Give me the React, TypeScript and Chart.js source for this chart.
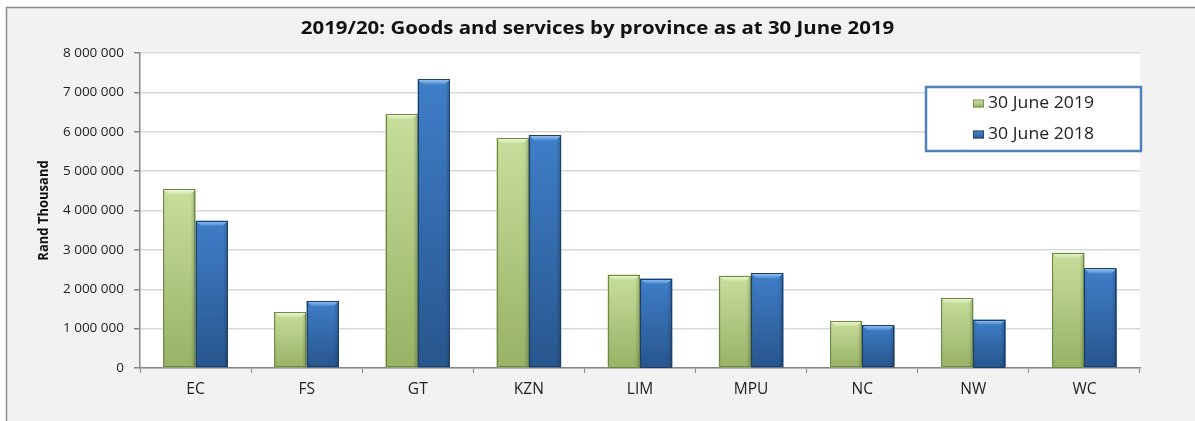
import React, { useEffect, useRef } from "react";
import { Chart, registerables } from "chart.js";

Chart.register(...registerables);

const TITLE = "2019/20: Goods and services by province as at 30 June 2019";
const Y_TITLE = "Rand Thousand";
const categories = ["EC", "FS", "GT", "KZN", "LIM", "MPU", "NC", "NW", "WC"];
const series2019 = [4535000, 1424000, 6450000, 5840000, 2374000, 2340000, 1195000, 1780000, 2930000];
const series2018 = [3737000, 1703000, 7330000, 5910000, 2270000, 2407000, 1093000, 1230000, 2527000];
const seriesNames = ["30 June 2019", "30 June 2018"];
const yTicks = { min: 0, max: 8000000, step: 1000000 };

const W = 1195;
const H = 421;

const STYLES = [
  { top: "#c7de9c", bottom: "#98b266", bevelA: "#f1f8dc", bevelB: "#cfe3a6", border: "#6f8845" },
  { top: "#3f7ec8", bottom: "#28568d", bevelA: "#9cc8f2", bevelB: "#4d8bd3", border: "#1d3f66" },
];

const fmt = (v: number) => String(v).replace(/\B(?=(\d{3})+(?!\d))/g, " ");

const decor = {
  id: "decor",
  beforeDraw(chart: any) {
    const ctx = chart.ctx;
    const ca = chart.chartArea;
    ctx.save();
    ctx.fillStyle = "#ffffff";
    ctx.fillRect(0, 0, W, H);
    ctx.fillStyle = "#f2f2f2";
    ctx.fillRect(6, 7, W, H);
    ctx.strokeStyle = "#8c8c8c";
    ctx.lineWidth = 1.5;
    ctx.strokeRect(6.5, 7.5, W + 10, H + 10);
    ctx.fillStyle = "#ffffff";
    ctx.fillRect(ca.left, ca.top, ca.right - ca.left, ca.bottom - ca.top);
    ctx.restore();
  },
  afterDatasetsDraw(chart: any) {
    const ctx = chart.ctx;
    ctx.save();
    chart.data.datasets.forEach((_: any, di: number) => {
      const st = STYLES[di];
      const meta = chart.getDatasetMeta(di);
      meta.data.forEach((el: any) => {
        const w = el.width;
        const l = el.x - w / 2;
        const r = el.x + w / 2;
        const t = el.y;
        const b = el.base;
        const g = ctx.createLinearGradient(0, t, 0, b);
        g.addColorStop(0, st.top);
        g.addColorStop(1, st.bottom);
        ctx.fillStyle = g;
        ctx.fillRect(l, t, w, b - t);
        const hg = ctx.createLinearGradient(l, 0, r, 0);
        hg.addColorStop(0, "rgba(0,0,0,0.10)");
        hg.addColorStop(0.08, "rgba(0,0,0,0)");
        hg.addColorStop(0.85, "rgba(0,0,0,0)");
        hg.addColorStop(1, "rgba(0,0,0,0.22)");
        ctx.fillStyle = hg;
        ctx.fillRect(l, t, w, b - t);
        const bv = 5;
        const bg = ctx.createLinearGradient(0, t, 0, t + bv);
        bg.addColorStop(0, st.bevelA);
        bg.addColorStop(1, st.bevelB);
        ctx.fillStyle = bg;
        ctx.beginPath();
        ctx.moveTo(l, t);
        ctx.lineTo(r, t);
        ctx.lineTo(r - bv, t + bv);
        ctx.lineTo(l + bv, t + bv);
        ctx.closePath();
        ctx.fill();
        ctx.strokeStyle = st.border;
        ctx.lineWidth = 1;
        ctx.strokeRect(Math.round(l) + 0.5, Math.round(t) + 0.5, Math.round(w) - 1, Math.round(b - t) - 1);
      });
    });
    ctx.restore();
  },
  afterDraw(chart: any) {
    const ctx = chart.ctx;
    const ca = chart.chartArea;
    ctx.save();
    // title (horizontally stretched like the reference)
    ctx.save();
    ctx.fillStyle = "#111111";
    ctx.font = "bold 17px 'Open Sans'";
    ctx.textAlign = "center";
    ctx.textBaseline = "middle";
    ctx.translate(W / 2, 29);
    ctx.scale(1.2, 1);
    ctx.fillText(TITLE, 0, 0);
    ctx.restore();
    // y title
    ctx.save();
    ctx.fillStyle = "#111111";
    ctx.textAlign = "center";
    ctx.textBaseline = "middle";
    ctx.translate(44, (ca.top + ca.bottom) / 2);
    ctx.rotate(-Math.PI / 2);
    ctx.scale(1, 1.15);
    ctx.font = "bold 13px 'Open Sans'";
    ctx.fillText(Y_TITLE, 0, 0);
    ctx.restore();
    // legend
    const bx = 926, by = 87, bw = 215, bh = 64;
    ctx.fillStyle = "#ffffff";
    ctx.fillRect(bx, by, bw, bh);
    ctx.strokeStyle = "#4f81bd";
    ctx.lineWidth = 2.5;
    ctx.strokeRect(bx, by, bw, bh);
    const rowsY = [103.5, 134.5];
    seriesNames.forEach((name, i) => {
      const st = STYLES[i];
      const y = rowsY[i];
      const mx = 973, mw = 11, mh = 8;
      const g = ctx.createLinearGradient(0, y - mh / 2, 0, y + mh / 2);
      g.addColorStop(0, st.bevelB);
      g.addColorStop(1, st.bottom);
      ctx.fillStyle = g;
      ctx.fillRect(mx, y - mh / 2, mw, mh);
      ctx.strokeStyle = st.border;
      ctx.lineWidth = 0.8;
      ctx.strokeRect(mx + 0.5, y - mh / 2 + 0.5, mw - 1, mh - 1);
      ctx.save();
      ctx.fillStyle = "#222222";
      ctx.font = "15.5px 'Open Sans'";
      ctx.textAlign = "left";
      ctx.textBaseline = "middle";
      ctx.translate(988, y);
      ctx.scale(1.14, 1);
      ctx.fillText(name, 0, 0);
      ctx.restore();
    });
    ctx.restore();
  },
};

export default function App() {
  const ref = useRef<HTMLCanvasElement | null>(null);
  useEffect(() => {
    if (!ref.current) return;
    const chart = new Chart(ref.current, {
      type: "bar",
      data: {
        labels: categories,
        datasets: [
          { label: seriesNames[0], data: series2019, backgroundColor: STYLES[0].top, borderWidth: 0 },
          { label: seriesNames[1], data: series2018, backgroundColor: STYLES[1].top, borderWidth: 0 },
        ],
      },
      options: {
        responsive: false,
        animation: false,
        devicePixelRatio: 1,
        layout: { padding: { top: 53, right: 55, left: 0, bottom: 0 } },
        datasets: { bar: { categoryPercentage: 0.58, barPercentage: 1 } },
        plugins: { legend: { display: false }, title: { display: false }, tooltip: { enabled: false } },
        scales: {
          x: {
            afterFit: (s: any) => { s.height = 53; },
            grid: { drawOnChartArea: false, drawTicks: true, tickLength: 5, tickColor: "#868686", offset: true },
            border: { display: true, color: "#868686", width: 1.5 },
            ticks: { color: "#222222", font: { family: "'Open Sans'", size: 15.5 }, padding: 7 },
          },
          y: {
            min: yTicks.min,
            max: yTicks.max,
            afterFit: (s: any) => { s.width = 140; },
            grid: { color: "#d9d9d9", lineWidth: 1.5, tickLength: 6, tickColor: "#868686" },
            border: { display: true, color: "#868686", width: 1.5 },
            ticks: {
              stepSize: yTicks.step,
              color: "#222222",
              font: { family: "'Open Sans'", size: 13.5 },
              padding: 10,
              callback: (v: any) => fmt(Number(v)),
            },
          },
        },
      },
      plugins: [decor],
    });
    return () => chart.destroy();
  }, []);
  return (
    <div style={{ position: "fixed", left: 0, top: 0, width: W, height: H }}>
      <canvas ref={ref} width={W} height={H} style={{ display: "block", width: W, height: H }} />
    </div>
  );
}
